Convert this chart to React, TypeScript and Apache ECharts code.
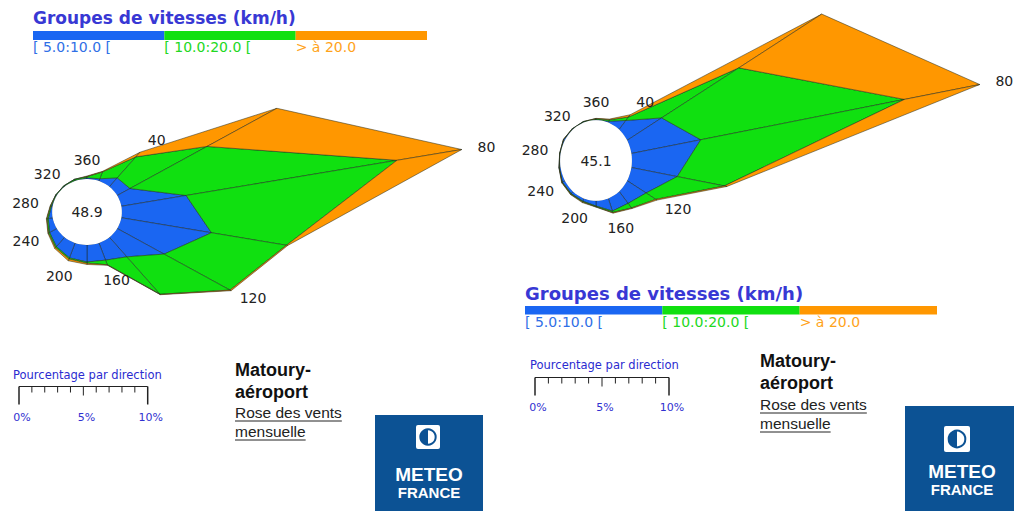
import React, { useEffect, useRef } from 'react';
import * as echarts from 'echarts';

// ---------- data ----------
const directions = [20, 40, 60, 80, 100, 120, 140, 160, 180, 200, 220, 240, 260, 280, 300, 320, 340, 360];
const labeledDirections = [40, 80, 120, 160, 200, 240, 280, 320, 360];

const legendTitle = 'Groupes de vitesses (km/h)';
const speedClasses = ['[ 5.0:10.0 [', '[ 10.0:20.0 [', '> à 20.0'];

// percentages per direction and speed class — rose 1
const rose1Blue = [0.2, 0.95, 1.15, 5.1, 7.1, 4.2, 2.1, 1.5, 1.4, 1.3, 1.0, 0.65, 0.35, 0.1, 0.05, 0.05, 0.05, 0.1];
const rose1Green = [0.6, 2.25, 6.9, 16.6, 5.9, 5.9, 4.0, 0.4, 0.1, 0.1, 0.1, 0.1, 0.1, 0.07, 0.05, 0.05, 0.1, 0.1];
const rose1Orange = [0.05, 0.5, 6.25, 5.1, 0.1, 0.1, 0.05, 0.05, 0.1, 0.15, 0.1, 0.05, 0.05, 0.03, 0, 0, 0, 0.05];
const rose1Calm = 48.9;

// rose 2
const rose2Blue = [0.1, 0.8, 3.0, 5.3, 3.5, 1.65, 1.05, 0.9, 0.35, 0.2, 0.2, 0.22, 0.1, 0.05, 0.1, 0.05, 0.05, 0.05];
const rose2Green = [0.1, 0.3, 6.7, 15.55, 3.6, 0.85, 0.4, 0.1, 0.05, 0.05, 0.05, 0.03, 0.02, 0.02, 0.02, 0.02, 0.02, 0.05];
const rose2Orange = [0.05, 0.2, 7.2, 5.75, 0.2, 0.1, 0.05, 0.05, 0.02, 0.05, 0.03, 0.03, 0.01, 0.01, 0.01, 0.01, 0.01, 0.02];
const rose2Calm = 45.1;

const scaleTitle = 'Pourcentage par direction';
const scaleTicks = [0, 1, 2, 3, 4, 5, 6, 7, 8, 9, 10];
const scaleLabelValues = [0, 5, 10];

const stationLines = ['Matoury-', 'aéroport'];
const subtitleLines = ['Rose des vents', 'mensuelle'];
const logoLines = ['METEO', 'FRANCE'];

// ---------- styles ----------
const classColors = ['#1a66f2', '#10e010', '#ff9700'];
const legendTextColors = ['#2f6fe6', '#22d822', '#ffa31a'];
const R0 = 2.7; // radius of the calm circle, in % units
const FONT = 'DejaVu Sans';

function makeRose(gridIndex: number, blue: number[], green: number[], orange: number[], calm: number) {
  const total = blue.map((b, i) => b + green[i] + orange[i]);
  const pt = (api: any, r: number, deg: number) => {
    const a = (deg * Math.PI) / 180;
    return api.coord([(R0 + r) * Math.sin(a), (R0 + r) * Math.cos(a)]);
  };
  const levels = (k: number) => [0, blue[k], blue[k] + green[k], total[k]];
  const sectors = {
    type: 'custom',
    xAxisIndex: gridIndex,
    yAxisIndex: gridIndex,
    z: 2,
    silent: true,
    data: directions.map((d) => [0, 0, d]),
    renderItem: (params: any, api: any) => {
      const i = params.dataIndex;
      const j = (i + 1) % directions.length;
      const li = levels(i);
      const lj = levels(j);
      const di = directions[i];
      const dj = directions[j];
      const children = classColors.map((color, c) => ({
        type: 'polygon',
        shape: {
          points: [pt(api, li[c], di), pt(api, li[c + 1], di), pt(api, lj[c + 1], dj), pt(api, lj[c], dj)],
        },
        style: { fill: color, stroke: '#1e281e', lineWidth: 0.5 },
      }));
      return { type: 'group', children };
    },
  };
  const circle = {
    type: 'custom',
    xAxisIndex: gridIndex,
    yAxisIndex: gridIndex,
    z: 3,
    silent: true,
    data: [[0, 0, calm]],
    renderItem: (params: any, api: any) => {
      const pts: number[][] = [];
      for (let a = 0; a < 360; a += 4) pts.push(pt(api, 0, a));
      const c = api.coord([0, 0]);
      return {
        type: 'group',
        children: [
          { type: 'polygon', shape: { points: pts }, style: { fill: '#ffffff' } },
          {
            type: 'text',
            x: c[0],
            y: c[1],
            style: { text: calm.toFixed(1), fill: '#222', fontSize: 14, fontFamily: FONT, align: 'center', verticalAlign: 'middle' },
          },
        ],
      };
    },
  };
  const labels = {
    type: 'custom',
    xAxisIndex: gridIndex,
    yAxisIndex: gridIndex,
    z: 4,
    silent: true,
    data: labeledDirections.map((d) => [0, 0, d]),
    renderItem: (params: any, api: any) => {
      const deg = labeledDirections[params.dataIndex];
      const k = directions.indexOf(deg);
      const tip = pt(api, total[k], deg);
      const c = api.coord([0, 0]);
      let dx = tip[0] - c[0];
      let dy = tip[1] - c[1];
      const len = Math.sqrt(dx * dx + dy * dy) || 1;
      dx /= len;
      dy /= len;
      return {
        type: 'text',
        x: tip[0] + dx * 25,
        y: tip[1] + dy * 16,
        style: {
          text: String(deg),
          fill: '#222',
          fontSize: 14,
          fontFamily: FONT,
          align: 'center',
          verticalAlign: 'middle',
        },
      };
    },
  };
  return [sectors, circle, labels];
}

function measure(text: string, font: string): number {
  const cv = document.createElement('canvas');
  const ctx = cv.getContext('2d');
  if (!ctx) return text.length * 8;
  ctx.font = font;
  return ctx.measureText(text).width;
}

function legendBlock(x: number, y: number, width: number, barH: number, titleSize: number) {
  const els: any[] = [];
  els.push({
    type: 'text',
    x,
    y,
    style: { text: legendTitle, fill: '#3838d4', fontSize: titleSize, fontWeight: 'bold', fontFamily: FONT, align: 'left', verticalAlign: 'middle' },
  });
  const seg = width / speedClasses.length;
  speedClasses.forEach((label, i) => {
    els.push({ type: 'rect', shape: { x: x + i * seg, y: y + 13, width: seg, height: barH }, style: { fill: classColors[i] } });
    els.push({
      type: 'text',
      x: x + i * seg,
      y: y + 13 + barH + 7,
      style: { text: label, fill: legendTextColors[i], fontSize: 14, fontFamily: FONT, align: 'left', verticalAlign: 'middle' },
    });
  });
  return els;
}

function scaleBlock(titleX: number, titleY: number, x0: number, lineY: number, len: number, labelY: number) {
  const els: any[] = [];
  els.push({
    type: 'text',
    x: titleX,
    y: titleY,
    style: { text: scaleTitle, fill: '#2b2bd0', fontSize: 11.5, fontFamily: FONT, align: 'left', verticalAlign: 'middle' },
  });
  els.push({ type: 'line', shape: { x1: x0, y1: lineY, x2: x0 + len, y2: lineY }, style: { stroke: '#222', lineWidth: 1.2 } });
  scaleTicks.forEach((t) => {
    const xx = x0 + (t / 10) * len;
    const h = t === 0 || t === 10 ? 18 : t === 5 ? 9 : 6;
    els.push({ type: 'line', shape: { x1: xx, y1: lineY, x2: xx, y2: lineY + h }, style: { stroke: '#222', lineWidth: t === 0 || t === 10 ? 1.5 : 1 } });
  });
  scaleLabelValues.forEach((v) => {
    els.push({
      type: 'text',
      x: x0 + (v / 10) * len + 3,
      y: labelY,
      style: { text: v + '%', fill: '#3030d0', fontSize: 11, fontFamily: FONT, align: 'center', verticalAlign: 'middle' },
    });
  });
  return els;
}

function stationBlock(x: number, ys: number[]) {
  const els: any[] = [];
  stationLines.forEach((t, i) => {
    els.push({
      type: 'text',
      x,
      y: ys[i],
      style: { text: t, fill: '#111', fontSize: 18, fontWeight: 'bold', fontFamily: 'Liberation Sans', align: 'left', verticalAlign: 'middle' },
    });
  });
  subtitleLines.forEach((t, i) => {
    const y = ys[2 + i];
    const w = measure(t, '15.5px "Liberation Sans"');
    els.push({
      type: 'text',
      x,
      y,
      style: { text: t, fill: '#222', fontSize: 15.5, fontFamily: 'Liberation Sans', align: 'left', verticalAlign: 'middle' },
    });
    els.push({ type: 'line', shape: { x1: x, y1: y + 9, x2: x + w, y2: y + 9 }, style: { stroke: '#222', lineWidth: 1 } });
  });
  return els;
}

function logoBlock(x: number, y: number, w: number, h: number, iconCx: number, iconCy: number, iconS: number, textCx: number, y1: number, y2: number) {
  const els: any[] = [];
  els.push({ type: 'rect', shape: { x, y, width: w, height: h }, style: { fill: '#0c5294' } });
  els.push({ type: 'rect', shape: { x: iconCx - iconS / 2, y: iconCy - iconS / 2, width: iconS, height: iconS, r: 2 }, style: { fill: '#ffffff' } });
  els.push({ type: 'circle', shape: { cx: iconCx, cy: iconCy, r: iconS * 0.32 }, style: { fill: 'none', stroke: '#0c5294', lineWidth: 2 } });
  els.push({
    type: 'sector',
    shape: { cx: iconCx, cy: iconCy, r: iconS * 0.32, r0: 0, startAngle: Math.PI / 2, endAngle: (Math.PI * 3) / 2 },
    style: { fill: '#0c5294' },
  });
  els.push({
    type: 'text',
    x: textCx,
    y: y1,
    style: { text: logoLines[0], fill: '#ffffff', fontSize: 19, fontWeight: 'bold', fontFamily: 'Liberation Sans', align: 'center', verticalAlign: 'middle' },
  });
  els.push({
    type: 'text',
    x: textCx,
    y: y2,
    style: { text: logoLines[1], fill: '#ffffff', fontSize: 15, fontWeight: 'bold', fontFamily: 'Liberation Sans', align: 'center', verticalAlign: 'middle' },
  });
  return els;
}

export default function App() {
  const ref = useRef<HTMLDivElement>(null);
  useEffect(() => {
    if (!ref.current) return;
    const chart = echarts.init(ref.current, undefined, { renderer: 'svg' });
    const graphic: any[] = [
      ...legendBlock(33, 18, 394, 9, 17),
      ...legendBlock(525, 293, 412, 8.5, 18),
      ...scaleBlock(13, 375, 19, 386.5, 128.7, 417),
      ...scaleBlock(530, 365, 535, 377.5, 134, 407),
      ...stationBlock(235, [370, 392, 412, 431]),
      ...stationBlock(760, [361, 383, 404, 423]),
      ...logoBlock(375, 415, 108, 100, 428, 437, 24, 429, 474, 492),
      ...logoBlock(905, 406, 109, 110, 957, 439, 26, 962, 471, 489),
    ];
    chart.setOption({
      animation: false,
      grid: [
        { left: 87 - 6 * 12.9, top: 212 - 12 * 12.2, width: 41 * 12.9, height: 24 * 12.2 },
        { left: 596 - 6 * 13.3, top: 160.5 - 10 * 14.94, width: 37 * 13.3, height: 18 * 14.94 },
      ],
      xAxis: [
        { gridIndex: 0, type: 'value', min: -6, max: 35, show: false },
        { gridIndex: 1, type: 'value', min: -6, max: 31, show: false },
      ],
      yAxis: [
        { gridIndex: 0, type: 'value', min: -12, max: 12, show: false },
        { gridIndex: 1, type: 'value', min: -8, max: 10, show: false },
      ],
      series: [
        ...makeRose(0, rose1Blue, rose1Green, rose1Orange, rose1Calm),
        ...makeRose(1, rose2Blue, rose2Green, rose2Orange, rose2Calm),
      ],
      graphic,
    } as any);
    return () => chart.dispose();
  }, []);
  return <div ref={ref} style={{ position: 'absolute', left: 0, top: 0, width: 1014, height: 511, background: '#fff' }} />;
}
